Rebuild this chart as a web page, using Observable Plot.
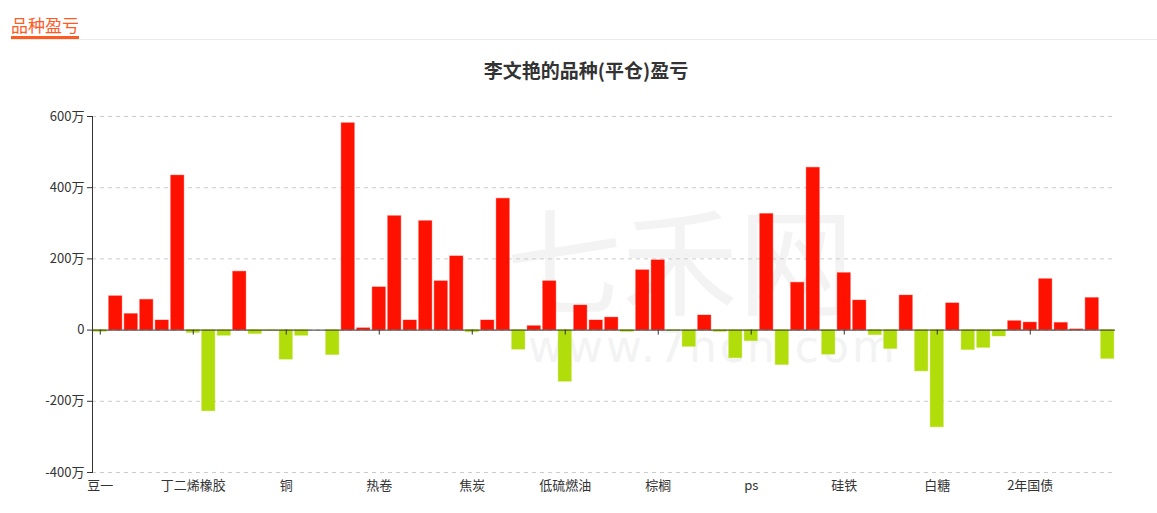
<!DOCTYPE html>
<html><head><meta charset="utf-8">
<script src="https://cdn.jsdelivr.net/npm/d3@7"></script>
<script src="https://cdn.jsdelivr.net/npm/@observablehq/plot@0.6"></script>
<style>
body{margin:0;background:#fff;font-family:"Noto Sans CJK SC","Noto Sans",sans-serif;width:1157px;height:513px;position:relative;overflow:hidden}
#hdr{position:absolute;left:11px;top:0;right:0;height:39px;border-bottom:1px solid #ebebeb}
#hdr span{position:absolute;left:0;top:14px;font-size:17px;color:#ff5a1f;line-height:21px;padding-bottom:1px;border-bottom:3px solid #ff5a1f}
#title{position:absolute;top:56px;left:0;width:1172px;text-align:center;font-size:19px;font-weight:bold;color:#333}
#wm1{position:absolute;left:506px;top:196px;font-size:116px;line-height:118px;color:#f3f3f3}
#wm2{position:absolute;left:528px;top:322px;font-size:44px;line-height:50px;color:#f3f3f3;letter-spacing:3px;font-family:"DejaVu Sans",sans-serif}
#chart{position:absolute;top:100px;left:0}
</style></head>
<body>
<div id="hdr"><span>品种盈亏</span></div>
<div id="title">李文艳的品种(平仓)盈亏</div>
<div id="wm1">七禾网</div>
<div id="wm2">www.7hcn.com</div>
<div id="chart"></div>
<script>
const categories = ["豆一","豆二","豆粕","豆油","玉米","淀粉","丁二烯橡胶","天然橡胶","20号胶","纸浆","原木","沪金",
"铜","沪银","沪铝","沪锌","沪铅","沪镍","热卷","螺纹","线材","不锈钢","铁矿石","焦煤",
"焦炭","锰硅","原油","燃油","沥青","液化气","低硫燃油","甲醇","乙二醇","PTA","短纤","菜油",
"棕榈","菜粕","塑料","PP","PVC","苯乙烯","ps","纯碱","玻璃","尿素","碳酸锂","工业硅",
"硅铁","棉花","棉纱","苹果","红枣","花生","白糖","鸡蛋","生猪","集运指数","沪深300","上证50",
"2年国债","5年国债","10年国债","30年国债","中证500","中证1000"];
const values = [-5,95,45,85,27,434,-8,-228,-16,164,-11,-2,
-83,-16,0,-70,581,5,120,320,27,306,137,207,
-6,27,369,-55,11,137,-145,69,27,35,-5,168,
196,-2,-47,41,-5,-79,-31,326,-98,133,456,-69,
160,83,-14,-53,97,-116,-273,75,-56,-50,-18,25,
21,143,20,2,90,-81];
const yTicks = [-400,-200,0,200,400,600];
const labeledCategories = categories.filter((d,i)=>i%6===0);
const posColor = "#ff1100", negColor = "#b1de0b";
const data = categories.map((c,i)=>({c, v: values[i]}));
const chart = Plot.plot({
  width:1157, height:400, marginTop:16, marginBottom:28, marginLeft:92, marginRight:42,
  style:{background:"transparent", fontSize:"13px", fontFamily:'"Noto Sans CJK SC","Noto Sans",sans-serif', color:"#333"},
  x:{domain:categories, paddingInner:0.15, paddingOuter:0.075, axis:null, label:null},
  y:{domain:[-400,600], axis:null, label:null},
  marks:[
    Plot.gridY(yTicks,{stroke:"#cccccc", strokeOpacity:1, strokeDasharray:"4,4"}),
    Plot.barY(data,{x:"c", y:"v", fill:d=>d.v>=0?posColor:negColor, stroke:d=>d.v>=0?posColor:negColor, strokeOpacity:0.35}),
    Plot.ruleY([0],{stroke:"#333"}),
    Plot.ruleX(labeledCategories,{x:d=>d, y1:0, y2:0, insetBottom:-5, stroke:"#333"}),
    Plot.axisY({ticks:yTicks, tickFormat:d=>d===0?"0":d+"万", tickSize:5, tickPadding:3, stroke:"#333", label:null}),
    Plot.frame({anchor:"left", stroke:"#333"}),
    Plot.axisX({ticks:labeledCategories, tickSize:0, tickPadding:8, label:null})
  ]
});
document.getElementById("chart").append(chart);
</script>
</body></html>
